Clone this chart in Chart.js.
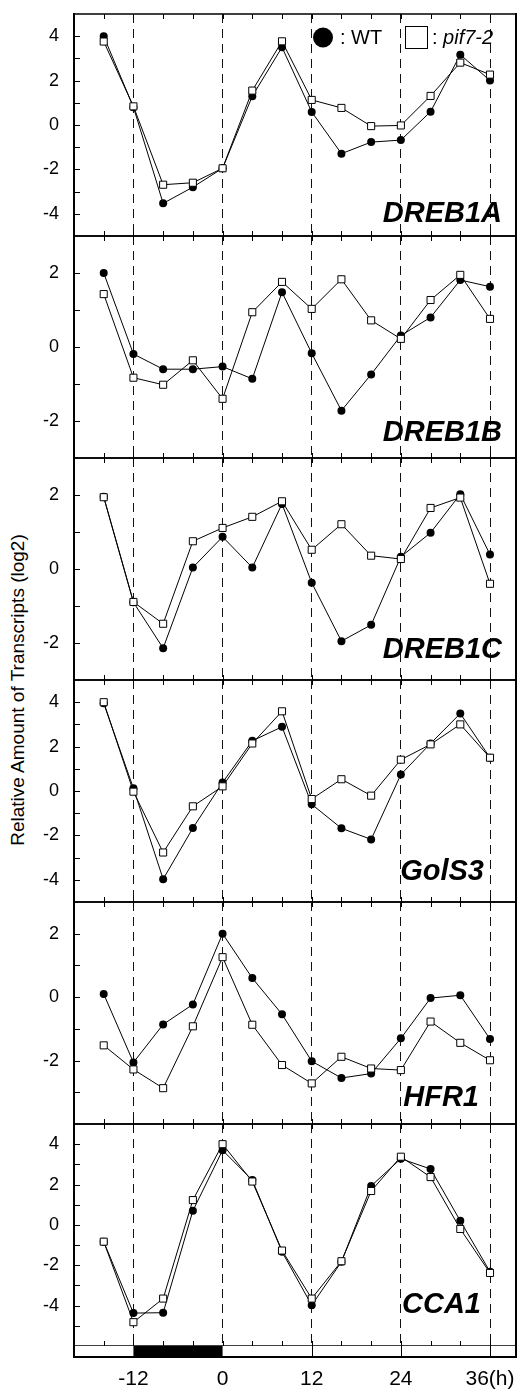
<!DOCTYPE html>
<html>
<head>
<meta charset="utf-8">
<script src="https://cdn.jsdelivr.net/npm/chart.js@4.4.1/dist/chart.umd.min.js"></script>
<style>
  body { margin: 0; background: #fff; }
  #wrap { position: relative; width: 521px; height: 1390px; overflow: hidden; }
  #wrap canvas { position: absolute; left: 0; }
  #ytitle {
    position: absolute; left: 18px; top: 690px;
    transform: translate(-50%, -50%) rotate(-90deg);
    font: 19px "Liberation Sans", Arial, sans-serif; white-space: nowrap; color: #000;
  }
</style>
</head>
<body>
<div id="wrap">
  <div id="ytitle">Relative Amount of Transcripts (log2)</div>
</div>
<script>
// time points (h)
const hours = [-16, -12, -8, -4, 0, 4, 8, 12, 16, 20, 24, 28, 32, 36];
const darkPeriod = [-12, 0];

const genes = ["DREB1A", "DREB1B", "DREB1C", "GolS3", "HFR1", "CCA1"];

// WT (filled circles)
const wtDREB1A = [4.0, 0.8, -3.53, -2.8, -1.95, 1.3, 3.5, 0.59, -1.29, -0.77, -0.68, 0.6, 3.17, 2.0];
const wtDREB1B = [2.0, -0.19, -0.6, -0.6, -0.53, -0.86, 1.48, -0.17, -1.72, -0.74, 0.31, 0.8, 1.81, 1.63];
const wtDREB1C = [1.95, -0.9, -2.14, 0.04, 0.87, 0.04, 1.76, -0.37, -1.95, -1.51, 0.33, 0.98, 2.02, 0.39];
const wtGolS3  = [3.95, 0.12, -3.97, -1.67, 0.38, 2.26, 2.89, -0.6, -1.68, -2.18, 0.74, 2.14, 3.49, 1.5];
const wtHFR1   = [0.1, -2.06, -0.86, -0.23, 2.0, 0.6, -0.54, -2.02, -2.55, -2.41, -1.3, -0.03, 0.06, -1.32];
const wtCCA1   = [-0.83, -4.37, -4.35, 0.7, 3.7, 2.22, -1.33, -3.98, -1.83, 1.93, 3.28, 2.77, 0.2, -2.32];

// pif7-2 (open squares)
const pifDREB1A = [3.76, 0.84, -2.69, -2.6, -1.95, 1.55, 3.77, 1.13, 0.77, -0.05, -0.02, 1.31, 2.81, 2.27];
const pifDREB1B = [1.43, -0.83, -1.02, -0.36, -1.4, 0.94, 1.76, 1.03, 1.83, 0.72, 0.22, 1.27, 1.95, 0.76];
const pifDREB1C = [1.94, -0.89, -1.48, 0.75, 1.11, 1.41, 1.83, 0.52, 1.21, 0.36, 0.27, 1.65, 1.93, -0.4];
const pifGolS3  = [4.0, -0.03, -2.77, -0.69, 0.21, 2.14, 3.59, -0.36, 0.53, -0.21, 1.41, 2.1, 3.0, 1.5];
const pifHFR1   = [-1.52, -2.28, -2.87, -0.92, 1.26, -0.87, -2.14, -2.72, -1.88, -2.25, -2.3, -0.77, -1.44, -1.99];
const pifCCA1   = [-0.83, -4.82, -3.65, 1.23, 4.0, 2.15, -1.27, -3.65, -1.8, 1.68, 3.38, 2.37, -0.2, -2.38];

const wtSeries  = [wtDREB1A, wtDREB1B, wtDREB1C, wtGolS3, wtHFR1, wtCCA1];
const pifSeries = [pifDREB1A, pifDREB1B, pifDREB1C, pifGolS3, pifHFR1, pifCCA1];

// y ranges and labelled ticks per panel
const yRanges = [[-5, 5], [-3, 3], [-3, 3], [-5, 5], [-4, 3], [-6, 5]];
const yLabels = [[-4, -2, 0, 2, 4], [-2, 0, 2], [-2, 0, 2], [-4, -2, 0, 2, 4], [-2, 0, 2], [-4, -2, 0, 2, 4]];

const FONT = '"Liberation Sans", Arial, sans-serif';
const panelTop = 14, panelH = 222, pad = 2, bottomAxisH = 44;
const geneRight = [502, 502, 502, 484, 479, 481];
const geneBase = [208, 205, 200, 200, 204, 189];

function decoPlugin(i) {
  return {
    id: 'deco' + i,
    beforeDatasetsDraw(chart) {
      const { ctx, chartArea: a, scales: { x, y } } = chart;
      ctx.save();
      ctx.strokeStyle = '#000';
      ctx.lineWidth = 1;
      // inward x ticks, every 4 h, top and bottom
      hours.forEach(h => {
        const px = Math.round(x.getPixelForValue(h)) + 0.5;
        ctx.beginPath();
        ctx.moveTo(px, a.top); ctx.lineTo(px, a.top + 5);
        ctx.moveTo(px, a.bottom); ctx.lineTo(px, a.bottom - 5);
        ctx.stroke();
      });
      // inward y ticks at every integer
      for (let v = Math.ceil(y.min); v < y.max; v++) {
        if (v <= y.min) continue;
        const py = Math.round(y.getPixelForValue(v)) + 0.5;
        ctx.beginPath();
        ctx.moveTo(a.left, py); ctx.lineTo(a.left + 6, py);
        ctx.stroke();
      }
      ctx.restore();
    },
    afterDraw(chart) {
      const { ctx, chartArea: a, scales: { x } } = chart;
      ctx.save();
      // gene name
      ctx.fillStyle = '#000';
      ctx.font = 'italic bold 29px ' + FONT;
      ctx.textAlign = 'right';
      ctx.textBaseline = 'alphabetic';
      ctx.fillText(genes[i], geneRight[i], a.top + geneBase[i]);

      // frame
      ctx.strokeStyle = '#000';
      ctx.lineWidth = 1.5;
      ctx.beginPath();
      ctx.moveTo(a.left, a.top); ctx.lineTo(a.right, a.top);
      ctx.moveTo(a.left, a.bottom); ctx.lineTo(a.right, a.bottom);
      ctx.stroke();
      ctx.lineWidth = 2;
      ctx.beginPath();
      ctx.moveTo(a.left, a.top - 1); ctx.lineTo(a.left, a.bottom + 1);
      ctx.moveTo(a.right, a.top - 1); ctx.lineTo(a.right, a.bottom + 1);
      ctx.stroke();

      if (i === 0) {
        // legend
        ctx.fillStyle = '#000';
        ctx.beginPath();
        ctx.arc(323, a.top + 23.5, 10, 0, Math.PI * 2);
        ctx.fill();
        ctx.font = '20px ' + FONT;
        ctx.textAlign = 'left';
        ctx.fillText(': WT', 340, a.top + 30);
        ctx.fillStyle = '#fff';
        ctx.fillRect(405.5, a.top + 12.5, 22, 22);
        ctx.lineWidth = 1;
        ctx.strokeRect(405.5, a.top + 12.5, 22, 22);
        ctx.fillStyle = '#000';
        ctx.fillText(': ', 432, a.top + 30);
        const w = ctx.measureText(': ').width;
        ctx.font = 'italic 20px ' + FONT;
        ctx.fillText('pif7-2', 432 + w, a.top + 30);
      }

      if (i === genes.length - 1) {
        // light/dark strip under the last panel
        const top = a.bottom, h = 11;
        const x0 = x.getPixelForValue(darkPeriod[0]);
        const x1 = x.getPixelForValue(darkPeriod[1]);
        ctx.fillStyle = '#fff';
        ctx.fillRect(a.left, top, a.right - a.left, h);
        ctx.fillStyle = '#000';
        ctx.fillRect(x0, top, x1 - x0, h);
        ctx.strokeStyle = '#000';
        ctx.lineWidth = 1;
        [12, 24, 36].forEach(v => {
          const px = Math.round(x.getPixelForValue(v)) + 0.5;
          ctx.beginPath(); ctx.moveTo(px, top); ctx.lineTo(px, top + h); ctx.stroke();
        });
        ctx.lineWidth = 2;
        ctx.beginPath();
        ctx.moveTo(a.left, top + h); ctx.lineTo(a.right, top + h);
        ctx.moveTo(a.left, top - 1); ctx.lineTo(a.left, top + h + 1);
        ctx.moveTo(a.right, top - 1); ctx.lineTo(a.right, top + h + 1);
        ctx.stroke();
      }
      ctx.restore();
    }
  };
}

const wrap = document.getElementById('wrap');

genes.forEach((gene, i) => {
  const last = i === genes.length - 1;
  const cv = document.createElement('canvas');
  const h = panelH + pad + (last ? bottomAxisH : pad);
  cv.width = 521;
  cv.height = h;
  cv.style.top = (panelTop + i * panelH - pad) + 'px';
  cv.style.width = '521px';
  cv.style.height = h + 'px';
  wrap.appendChild(cv);

  const toPts = arr => arr.map((v, k) => ({ x: hours[k], y: v }));

  new Chart(cv, {
    type: 'line',
    data: {
      datasets: [
        {
          label: 'pif7-2',
          data: toPts(pifSeries[i]),
          borderColor: '#000',
          borderWidth: 1,
          backgroundColor: '#fff',
          pointStyle: 'rect',
          pointRadius: 5,
          pointBorderWidth: 1,
          pointBorderColor: '#000',
          pointBackgroundColor: '#fff',
          tension: 0,
          order: 0
        },
        {
          label: 'WT',
          data: toPts(wtSeries[i]),
          borderColor: '#000',
          borderWidth: 1,
          pointStyle: 'circle',
          pointRadius: 4,
          pointBorderWidth: 0,
          pointBackgroundColor: '#000',
          tension: 0,
          order: 1
        }
      ]
    },
    options: {
      responsive: false,
      animation: false,
      devicePixelRatio: 1,
      layout: { autoPadding: false, padding: { top: pad, bottom: last ? 0 : pad, left: 0, right: 5 } },
      plugins: { legend: { display: false }, tooltip: { enabled: false } },
      scales: {
        x: {
          type: 'linear',
          min: -20,
          max: 39.5,
          afterBuildTicks: s => { s.ticks = hours.map(v => ({ value: v })); },
          afterFit: s => {
            s.height = last ? bottomAxisH : 0;
            s.paddingLeft = 0; s.paddingRight = 0; s.paddingTop = 0; s.paddingBottom = 0;
          },
          border: { display: false, dash: [9, 6] },
          grid: {
            drawTicks: false,
            lineWidth: 1,
            color: c => (c.tick && c.tick.value % 12 === 0) ? '#111' : 'rgba(0,0,0,0)'
          },
          ticks: {
            display: last,
            padding: 21,
            maxRotation: 0,
            autoSkip: false,
            color: '#000',
            font: { family: FONT, size: 21 },
            callback: v => v % 12 !== 0 ? '' : (v === 36 ? '36(h)' : String(v))
          }
        },
        y: {
          min: yRanges[i][0],
          max: yRanges[i][1],
          afterBuildTicks: s => { s.ticks = yLabels[i].map(v => ({ value: v })); },
          afterFit: s => {
            s.width = 74;
            s.paddingLeft = 0; s.paddingRight = 0; s.paddingTop = 0; s.paddingBottom = 0;
          },
          border: { display: false },
          grid: { drawOnChartArea: false, drawTicks: false },
          ticks: {
            padding: 15,
            color: '#000',
            font: { family: FONT, size: 18 }
          }
        }
      }
    },
    plugins: [decoPlugin(i)]
  });
});
</script>
</body>
</html>
